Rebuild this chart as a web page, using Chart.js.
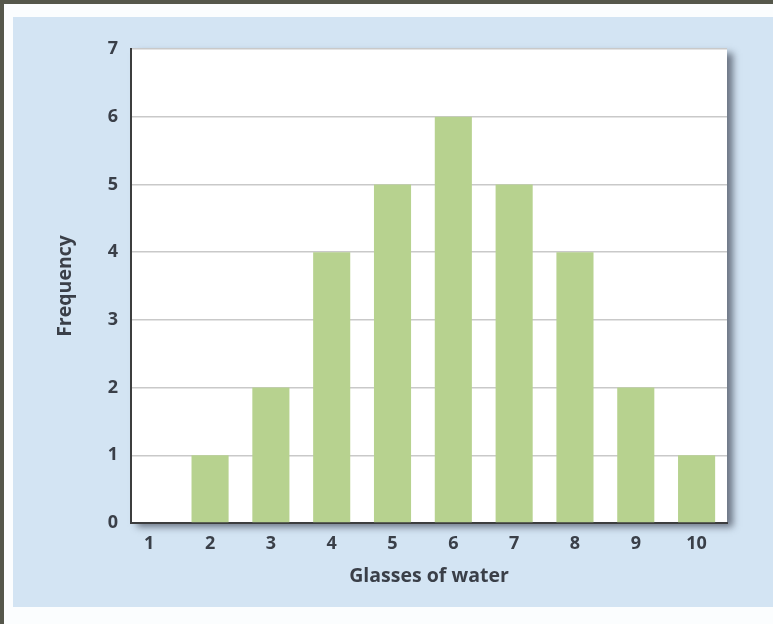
<!DOCTYPE html>
<html>
<head>
<meta charset="utf-8">
<script src="https://cdn.jsdelivr.net/npm/chart.js@4.4.1/dist/chart.umd.min.js"></script>
<style>
  html, body { margin: 0; padding: 0; }
  body { width: 773px; height: 624px; position: relative; overflow: hidden; background: #fbfdfe; }
  .edge-top { position: absolute; left: 0; top: 0; width: 773px; height: 4px; background: #55574b; }
  .edge-left { position: absolute; left: 0; top: 0; width: 4px; height: 624px; background: #55574b; }
  .panel { position: absolute; left: 13px; top: 17px; width: 760px; height: 590px; background: #d3e4f3; }
  .wrap { position: absolute; left: 0; top: 0; width: 773px; height: 624px; }
</style>
</head>
<body>
<div class="edge-top"></div>
<div class="edge-left"></div>
<div class="panel"></div>
<div class="wrap"><canvas id="histChart" width="773" height="624"></canvas></div>
<script>
  // glasses of water per day vs. how many people drank that many
  const glasses = [1, 2, 3, 4, 5, 6, 7, 8, 9, 10];
  const frequency = [0, 1, 2, 4, 5, 6, 5, 4, 2, 1];
  const xTicks = [1, 2, 3, 4, 5, 6, 7, 8, 9, 10];
  const yTicks = [0, 1, 2, 3, 4, 5, 6, 7];

  const textColor = '#3a3f48';
  const axisColor = '#3c3d3e';

  // white plot box with a soft drop shadow to the lower right
  const plotBox = {
    id: 'plotBox',
    beforeDraw(chart) {
      const { ctx, chartArea: a } = chart;
      ctx.save();
      ctx.shadowColor = 'rgba(40, 45, 60, 0.6)';
      ctx.shadowBlur = 7;
      ctx.shadowOffsetX = 6;
      ctx.shadowOffsetY = 4;
      ctx.fillStyle = '#ffffff';
      ctx.fillRect(a.left, a.top, a.right - a.left, a.bottom - a.top);
      ctx.restore();
    }
  };

  new Chart(document.getElementById('histChart').getContext('2d'), {
    type: 'bar',
    data: {
      datasets: [{
        data: glasses.map((g, i) => ({ x: g, y: frequency[i] })),
        backgroundColor: '#b7d28f',
        borderWidth: 0,
        barPercentage: 0.61,
        categoryPercentage: 1
      }]
    },
    options: {
      responsive: false,
      animation: false,
      layout: { padding: { left: 0, top: 49, right: 46, bottom: 0 } },
      plugins: {
        legend: { display: false },
        tooltip: { enabled: false }
      },
      scales: {
        x: {
          type: 'linear',
          offset: false,
          min: 0.7,
          max: 10.5,
          afterBuildTicks: axis => { axis.ticks = xTicks.map(v => ({ value: v })); },
          afterFit: axis => { axis.height = 101; },
          grid: { display: false, drawTicks: false },
          border: { display: true, color: axisColor, width: 2 },
          ticks: {
            padding: 10,
            color: textColor,
            font: { family: 'Open Sans', size: 18, weight: 'bold' }
          },
          title: {
            display: true,
            text: 'Glasses of water',
            color: textColor,
            font: { family: 'Open Sans', size: 19.5, weight: 'bold' },
            padding: { top: 0, bottom: 36 }
          }
        },
        y: {
          min: 0,
          max: 7,
          afterBuildTicks: axis => { axis.ticks = yTicks.map(v => ({ value: v })); },
          afterFit: axis => { axis.width = 131; },
          grid: { color: '#c9c9c9', lineWidth: 1.5, drawTicks: false },
          border: { display: true, color: axisColor, width: 2 },
          ticks: {
            padding: 13,
            color: textColor,
            font: { family: 'Open Sans', size: 18, weight: 'bold' }
          },
          title: {
            display: true,
            text: 'Frequency',
            color: textColor,
            font: { family: 'Open Sans', size: 19.5, weight: 'bold' },
            padding: { top: 54, bottom: 0 },
            align: 'center'
          }
        }
      }
    },
    plugins: [plotBox]
  });
</script>
</body>
</html>
